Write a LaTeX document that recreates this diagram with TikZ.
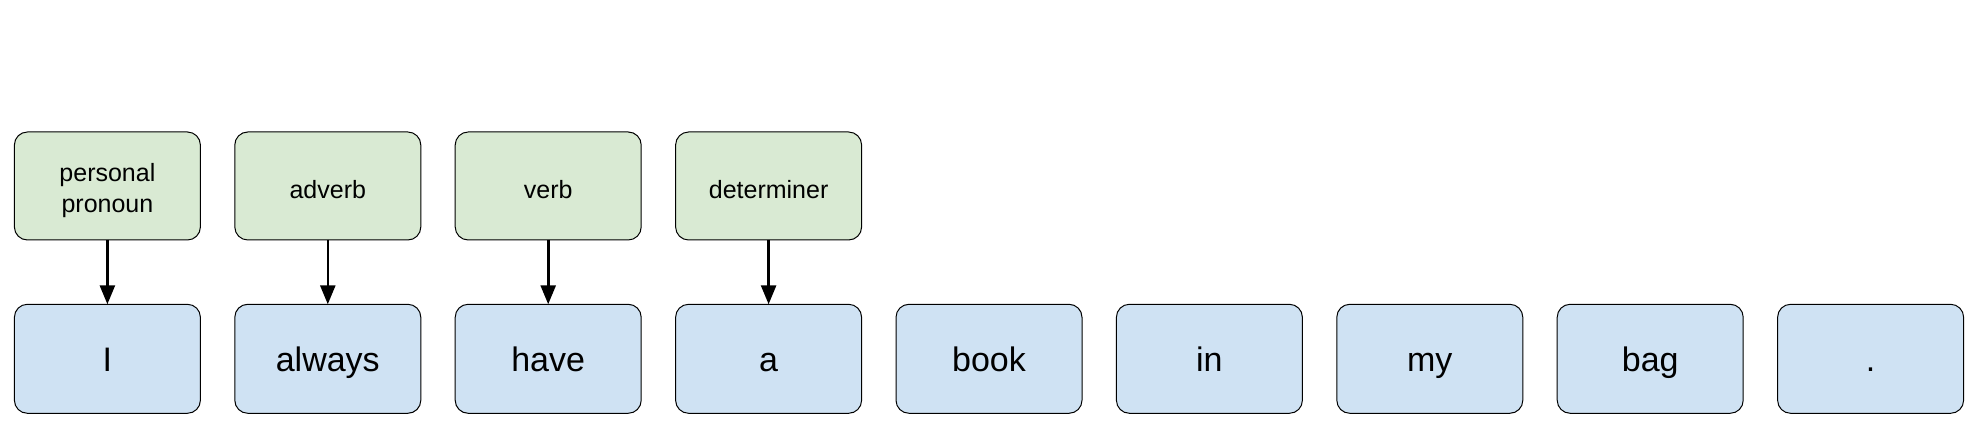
\documentclass[tikz,border=0pt]{standalone}
\usepackage{fontspec}
\setmainfont{Liberation Sans}
\usepackage{xcolor}
\usetikzlibrary{positioning, arrows.meta}

\definecolor{tagfill}{HTML}{D9EAD3}
\definecolor{wordfill}{HTML}{CFE2F3}

\begin{document}
\begin{tikzpicture}[
    box/.style={draw, line width=0.5pt, rounded corners=6.5pt, minimum width=93pt, inner sep=0pt, outer sep=0pt, align=center},
    word/.style={box, fill=wordfill, minimum height=54.5pt, text height=13.2pt, text depth=0pt, font=\fontsize{17}{20}\selectfont},
    tag/.style={box, fill=tagfill, minimum height=54pt, text height=12.3pt, font=\fontsize{12.5}{15.5}\selectfont},
    node distance=32.15pt and 17.2pt,
    tagarrow/.style={line width=1.3pt, -{Triangle[length=9.5pt, width=7.5pt]}}
  ]
    \useasboundingbox (0,0) rectangle (992.5pt,221pt);
    % words
    \node[word] (w1) at (53.7pt,41.6pt) {I};
    \node[word, right=of w1] (w2) {always};
    \node[word, right=of w2] (w3) {have};
    \node[word, right=of w3] (w4) {a};
    \node[word, right=of w4] (w5) {book};
    \node[word, right=of w5] (w6) {in};
    \node[word, right=of w6] (w7) {my};
    \node[word, right=of w7] (w8) {bag};
    \node[word, right=of w8] (w9) {.};
    % tags
    \node[tag, text height=29.6pt, above=of w1] (t1) {personal\\pronoun};
    \node[tag, above=of w2] (t2) {adverb};
    \node[tag, above=of w3] (t3) {verb};
    \node[tag, above=of w4] (t4) {determiner};
    \foreach \i in {1,...,4}
      \draw[tagarrow] (t\i) -- (w\i);
\end{tikzpicture}
\end{document}
